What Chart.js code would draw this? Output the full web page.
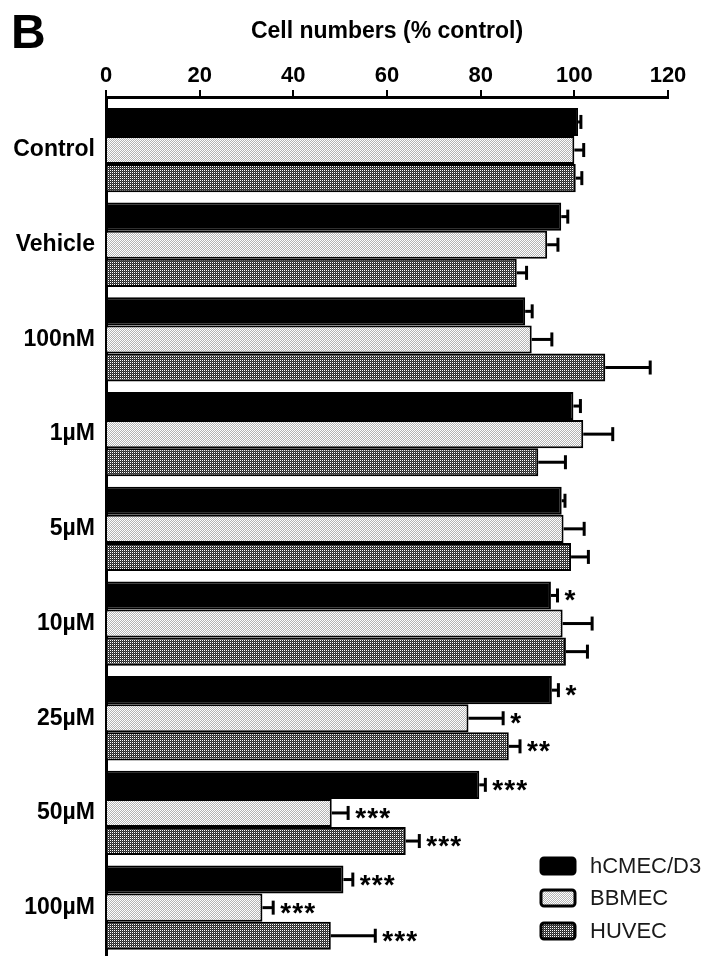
<!DOCTYPE html>
<html><head><meta charset="utf-8">
<script src="https://cdn.jsdelivr.net/npm/chart.js@4"></script>
<style>html,body{margin:0;padding:0;background:#fff;overflow:hidden}canvas{display:block}</style>
</head><body>
<canvas id="c" width="713" height="956"></canvas>
<script>
const categories = ['Control','Vehicle','100nM','1µM','5µM','10µM','25µM','50µM','100µM'];
const seriesNames = ['hCMEC/D3','BBMEC','HUVEC'];
const hcmec    = [100.8, 97.2, 89.5, 99.8, 97.3, 95.0, 95.2, 79.7, 50.7];
const hcmecErr = [0.6, 1.4, 1.5, 1.5, 0.7, 1.4, 1.4, 1.3, 2.0];
const bbmec    = [100.0, 94.2, 90.9, 101.9, 97.7, 97.5, 77.4, 48.2, 33.4];
const bbmecErr = [2.0, 2.3, 4.3, 6.3, 4.4, 6.3, 7.4, 3.5, 2.3];
const huvec    = [100.3, 87.7, 106.6, 92.3, 99.3, 98.2, 86.0, 64.0, 48.0];
const huvecErr = [1.3, 2.1, 9.6, 5.8, 3.7, 4.6, 2.4, 2.9, 9.5];
const hcmecStars = ['', '', '', '', '', '*', '*', '***', '***'];
const bbmecStars = ['', '', '', '', '', '', '*', '***', '***'];
const huvecStars = ['', '', '', '', '', '', '**', '***', '***'];
const xTickValues = [0, 20, 40, 60, 80, 100, 120];

const FONT = "'Liberation Sans', Arial, sans-serif";
Chart.defaults.font.family = FONT;
Chart.defaults.color = '#000';

function makePattern(cells, size) {
  const c = document.createElement('canvas');
  c.width = size; c.height = size;
  const g = c.getContext('2d');
  for (let y = 0; y < size; y++) for (let x = 0; x < size; x++) {
    g.fillStyle = cells[y][x]; g.fillRect(x, y, 1, 1);
  }
  return g.createPattern(c, 'repeat');
}
const W = '#ffffff';
const lightPat = makePattern([[W, '#b4b4b4'], ['#b4b4b4', W]], 2);
const darkPat = makePattern([[W, '#2a2a2a'], ['#2a2a2a', '#4e4e4e']], 2);

const toPts = arr => arr.map((v, i) => ({x: v, y: i}));

const errorPlugin = {
  id: 'errs',
  afterDatasetsDraw(chart) {
    const ctx = chart.ctx;
    const xs = chart.scales.x;
    chart.data.datasets.forEach((ds, di) => {
      const meta = chart.getDatasetMeta(di);
      meta.data.forEach((bar, j) => {
        const v = ds.data[j].x, e = ds.errors[j];
        const x0 = bar.x, x1 = xs.getPixelForValue(v + e), y = bar.y;
        ctx.save();
        ctx.strokeStyle = '#000'; ctx.lineWidth = 3; ctx.lineCap = 'butt';
        ctx.beginPath(); ctx.moveTo(x0, y); ctx.lineTo(x1, y); ctx.stroke();
        ctx.beginPath(); ctx.moveTo(x1, y - 7); ctx.lineTo(x1, y + 7); ctx.stroke();
        const s = ds.stars[j];
        if (s) {
          ctx.fillStyle = '#000';
          ctx.font = 'bold 28px ' + FONT;
          ctx.textAlign = 'left'; ctx.textBaseline = 'alphabetic';
          for (let k = 0; k < s.length; k++) ctx.fillText('*', x1 + 7 + k * 12, y + 14);
        }
        ctx.restore();
      });
    });
  }
};

const extrasPlugin = {
  id: 'extras',
  afterDraw(chart) {
    const ctx = chart.ctx;
    ctx.save();
    ctx.fillStyle = '#000';
    ctx.font = 'bold 48px ' + FONT;
    ctx.textAlign = 'left'; ctx.textBaseline = 'alphabetic';
    ctx.fillText('B', 11, 48);
    const rows = [866, 898, 931];
    chart.data.datasets.forEach((ds, i) => {
      const y = rows[i];
      ctx.beginPath();
      ctx.roundRect(541, y - 8, 34, 16, 3);
      ctx.fillStyle = ds.backgroundColor; ctx.fill();
      ctx.lineWidth = 3; ctx.strokeStyle = '#000'; ctx.stroke();
      ctx.fillStyle = '#1a1a1a';
      ctx.font = '22px ' + FONT;
      ctx.textBaseline = 'middle';
      ctx.fillText(ds.label, 590, y + 1);
    });
    ctx.restore();
  }
};

new Chart(document.getElementById('c'), {
  type: 'bar',
  data: {
    datasets: [
      {label: seriesNames[0], data: toPts(hcmec), errors: hcmecErr, stars: hcmecStars, backgroundColor: '#000', borderColor: '#000', borderWidth: 2},
      {label: seriesNames[1], data: toPts(bbmec), errors: bbmecErr, stars: bbmecStars, backgroundColor: lightPat, borderColor: '#000', borderWidth: 2},
      {label: seriesNames[2], data: toPts(huvec), errors: huvecErr, stars: huvecStars, backgroundColor: darkPat, borderColor: '#000', borderWidth: 2}
    ]
  },
  options: {
    responsive: false, animation: false, devicePixelRatio: 1,
    indexAxis: 'y',
    datasets: {bar: {categoryPercentage: 0.89, barPercentage: 1.0, borderSkipped: 'start'}},
    layout: {padding: {left: 0, right: 45, top: 0, bottom: 1}},
    plugins: {legend: {display: false}, tooltip: {enabled: false}},
    scales: {
      x: {
        type: 'linear', position: 'top', min: 0, max: 120, offset: false,
        afterBuildTicks: s => { s.ticks = xTickValues.map(v => ({value: v})); },
        afterFit: s => { s.height = 97; },
        ticks: {font: {size: 22, weight: 'bold'}, color: '#000', padding: 1, maxRotation: 0},
        grid: {drawOnChartArea: false, drawTicks: true, tickLength: 7, color: '#000', lineWidth: 2},
        border: {display: true, color: '#000', width: 3},
        title: {display: true, text: 'Cell numbers (% control)', font: {size: 23, weight: 'bold'}, color: '#000', padding: {top: 18, bottom: 0}}
      },
      y: {
        type: 'linear', reverse: true, min: -0.56, max: 8.5, offset: false,
        afterBuildTicks: s => { s.ticks = categories.map((_, i) => ({value: i})); },
        afterFit: s => { s.width = 106; s.paddingTop = 0; s.paddingBottom = 0; },
        ticks: {callback: v => categories[v], font: {size: 23, weight: 'bold'}, color: '#000', padding: 11, autoSkip: false},
        grid: {display: false, drawTicks: false, offset: false},
        border: {display: true, color: '#000', width: 3}
      }
    }
  },
  plugins: [errorPlugin, extrasPlugin]
});
</script>
</body></html>
